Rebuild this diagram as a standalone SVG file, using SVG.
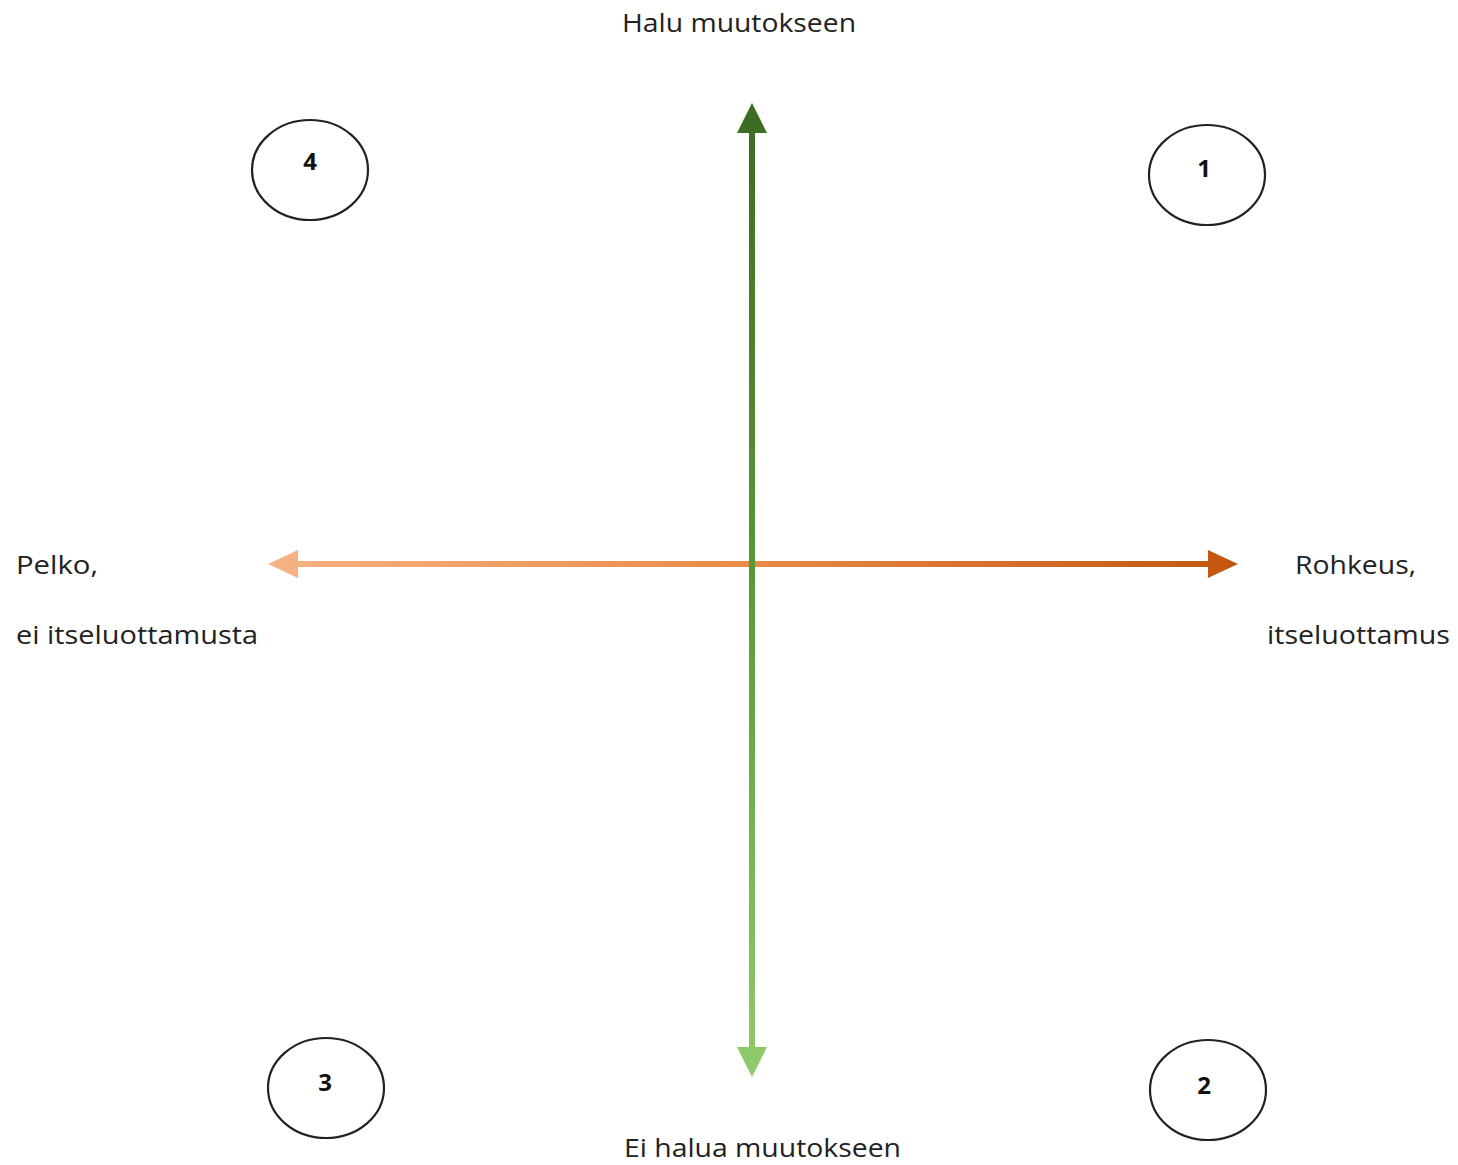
<svg xmlns="http://www.w3.org/2000/svg" width="1458" height="1165" viewBox="0 0 1458 1165">
<defs>
<linearGradient id="gv" gradientUnits="userSpaceOnUse" x1="0" y1="103" x2="0" y2="1077">
<stop offset="0" stop-color="#3b6b22"/>
<stop offset="0.5" stop-color="#5a9a3a"/>
<stop offset="1" stop-color="#90cc6c"/>
</linearGradient>
<linearGradient id="gh" gradientUnits="userSpaceOnUse" x1="268" y1="0" x2="1238" y2="0">
<stop offset="0" stop-color="#f5b283"/>
<stop offset="0.5" stop-color="#ea8a45"/>
<stop offset="1" stop-color="#c2560f"/>
</linearGradient>
<style>
.lbl{font-family:"Open Sans","Liberation Sans",sans-serif;font-size:25px;fill:#222}
.num{font-family:"Open Sans","Liberation Sans",sans-serif;font-size:24px;font-weight:bold;fill:#111;text-anchor:middle}
.ell{fill:#fff;stroke:#222;stroke-width:2.2}
</style>
</defs>
<rect width="1458" height="1165" fill="#fff"/>
<g id="connectors">
<path id="axis-h" d="M268,564 L298,550 L298,561 L1208,561 L1208,550 L1238,564 L1208,578 L1208,567 L298,567 L298,578 Z" fill="url(#gh)"/>
<path id="axis-v" d="M752,103 L767,133 L755,133 L755,1047 L767,1047 L752,1077 L737,1047 L749,1047 L749,133 L737,133 Z" fill="url(#gv)"/>
</g>
<g id="node-4"><ellipse class="ell" cx="310" cy="170" rx="58" ry="50"/><text class="num" x="310" y="170">4</text></g>
<g id="node-1"><ellipse class="ell" cx="1207" cy="175" rx="58" ry="50"/><text class="num" x="1204" y="177">1</text></g>
<g id="node-3"><ellipse class="ell" cx="326" cy="1088" rx="58" ry="50"/><text class="num" x="325" y="1091">3</text></g>
<g id="node-2"><ellipse class="ell" cx="1208" cy="1090" rx="58" ry="50"/><text class="num" x="1204" y="1094">2</text></g>
<g id="labels">
<text class="lbl" x="622" y="32" textLength="234" lengthAdjust="spacingAndGlyphs">Halu muutokseen</text>
<text class="lbl" x="16" y="574" textLength="82" lengthAdjust="spacingAndGlyphs">Pelko,</text>
<text class="lbl" x="16" y="644" textLength="242" lengthAdjust="spacingAndGlyphs">ei itseluottamusta</text>
<text class="lbl" x="1295" y="574" textLength="121" lengthAdjust="spacingAndGlyphs">Rohkeus,</text>
<text class="lbl" x="1267" y="644" textLength="183" lengthAdjust="spacingAndGlyphs">itseluottamus</text>
<text class="lbl" x="624" y="1157" textLength="277" lengthAdjust="spacingAndGlyphs">Ei halua muutokseen</text>
</g>
</svg>
